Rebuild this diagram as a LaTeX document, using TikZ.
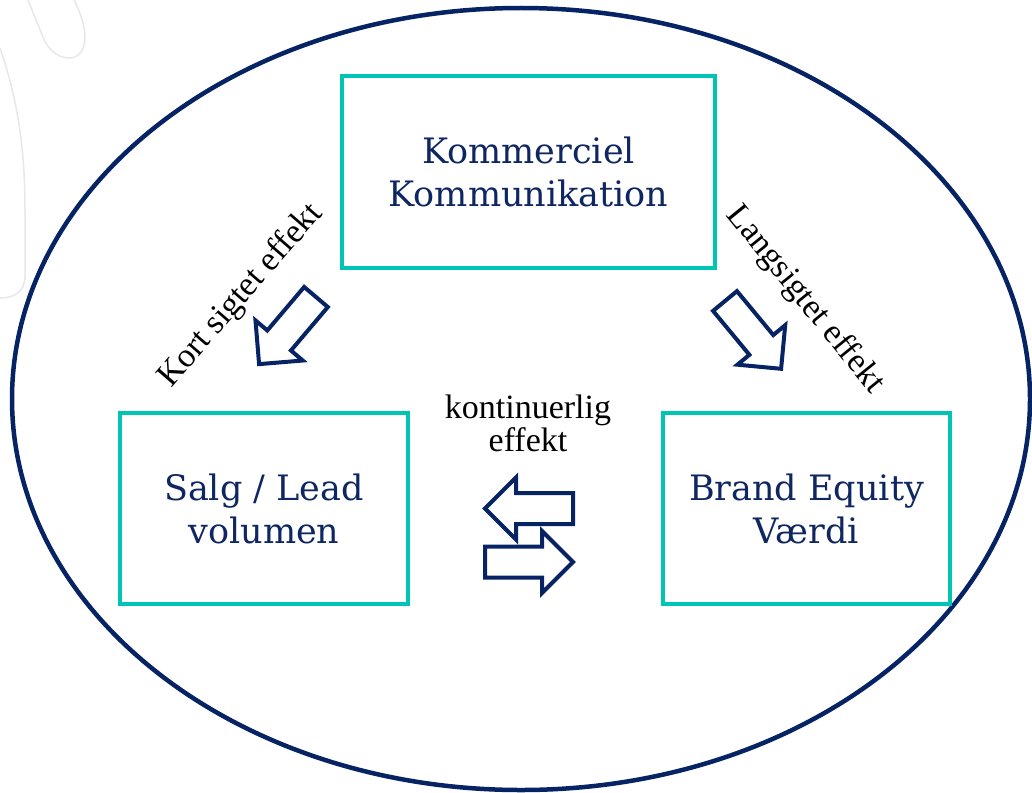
\documentclass[tikz,border=0pt]{standalone}
\usepackage{fontspec}
\setmainfont{DejaVu Serif}
\newfontfamily\labelfont{Liberation Serif}
\definecolor{navy}{RGB}{6,35,100}
\definecolor{navytext}{RGB}{14,38,98}
\definecolor{teal}{RGB}{0,196,180}
\definecolor{faint}{RGB}{230,233,233}
\tikzset{
  frame/.style={draw=navy, line width=4.5pt},
  effectbox/.style={draw=teal, line width=4.5pt, align=center, text=navytext,
    font=\fontsize{35}{43}\selectfont, inner sep=0pt},
  effectlabel/.style={align=center, text=black, inner sep=0pt,
    font=\labelfont\fontsize{34}{33}\selectfont},
  arrowline/.style={draw=navy, fill=white, line width=4pt, line join=miter},
  pics/blockarrow/.style={code={
    \draw[arrowline] (0,-15.5) -- (57,-15.5) -- (57,-31) -- (88,0)
      -- (57,31) -- (57,15.5) -- (0,15.5) -- cycle;
  }}
}
\begin{document}
\begin{tikzpicture}[x=1pt,y=-1pt]
\useasboundingbox (0,0) rectangle (1032,792);
\fill[white] (0,0) rectangle (1032,792);

% faint background strokes in the corner
\draw[faint, line width=1.5pt] (0,48) .. controls (18,100) and (25,150) .. (25,210)
  -- (25,276) .. controls (25,292) and (14,298) .. (0,298);
\draw[faint, line width=1.5pt] (28,0) -- (43,37) .. controls (52,62) and (85,68) .. (85,37)
  .. controls (85,25) and (80,12) .. (74,0);

% enclosing ellipse
\draw[frame] (521,399) ellipse [x radius=509pt, y radius=391pt];

% boxes
\node[effectbox, minimum width=373pt, minimum height=192pt] (komm) at (528.5,172)
  {Kommerciel\\Kommunikation};
\node[effectbox, minimum width=288pt, minimum height=191pt] (salg) at (264,508.5)
  {Salg / Lead\\volumen};
\node[effectbox, minimum width=287pt, minimum height=191pt] (brand) at (806.5,508.5)
  {Brand Equity\\V\ae rdi};

% labels
\node[effectlabel, rotate=49] (kort) at (241,296) {Kort sigtet effekt};
\node[effectlabel, rotate=-51] (lang) at (805,300) {Langsigtet effekt};
\node[effectlabel] (kont) at (528,423) {kontinuerlig\\effekt};

% block arrows
\pic[rotate=229.7] at (316,297) {blockarrow};
\pic[rotate=-50.4] at (725,301) {blockarrow};
\pic[rotate=180] at (573,508.5) {blockarrow};
\pic at (485,562) {blockarrow};
\end{tikzpicture}
\end{document}
